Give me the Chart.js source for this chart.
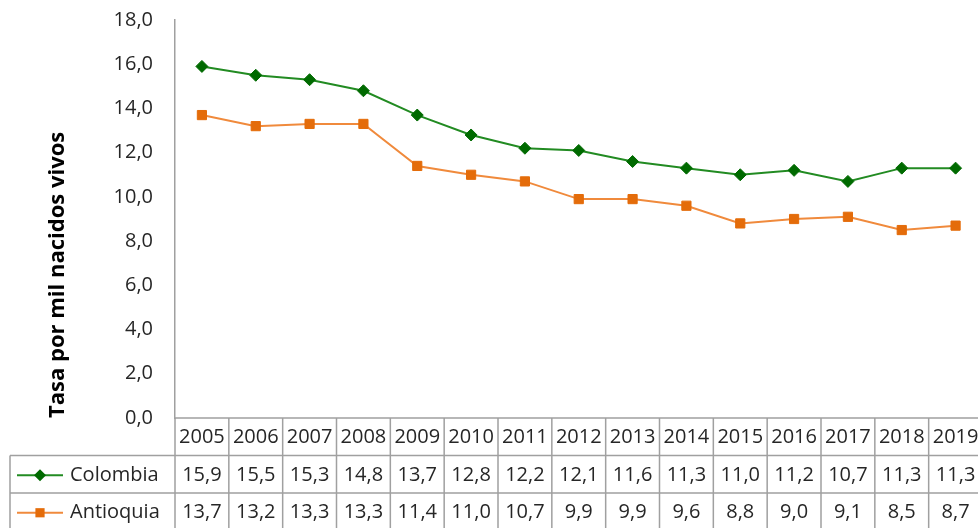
<!DOCTYPE html>
<html>
<head>
<meta charset="utf-8">
<script src="https://cdn.jsdelivr.net/npm/chart.js@4/dist/chart.umd.min.js"></script>
<style>
  body { margin: 0; background: #fff; overflow: hidden; }
  #wrap { width: 990px; height: 528px; }
</style>
</head>
<body>
<div id="wrap"><canvas id="chart" width="990" height="528"></canvas></div>
<script>
const years = ['2005', '2006', '2007', '2008', '2009', '2010', '2011', '2012', '2013', '2014', '2015', '2016', '2017', '2018', '2019'];
const colombia = [15.9, 15.5, 15.3, 14.8, 13.7, 12.8, 12.2, 12.1, 11.6, 11.3, 11.0, 11.2, 10.7, 11.3, 11.3];
const antioquia = [13.7, 13.2, 13.3, 13.3, 11.4, 11.0, 10.7, 9.9, 9.9, 9.6, 8.8, 9.0, 9.1, 8.5, 8.7];
const seriesNames = ['Colombia', 'Antioquia'];
const yMin = 0, yMax = 18, yStep = 2;
const yTitle = 'Tasa por mil nacidos vivos';

const green = '#006a00';
const greenLine = '#228b22';
const orange = '#e46c0a';
const orangeLine = '#f08a3c';
const gridGrey = '#a0a0a0';
const textCol = '#262626';
const fontFam = '"Open Sans", Lato, sans-serif';

function fmt(v) {
  return v.toFixed(1).replace('.', ',');
}

// data table below the plot, columns follow the x scale
const dataTable = {
  id: 'dataTable',
  afterDraw(chart) {
    const ctx = chart.ctx;
    const x = chart.scales.x;
    const area = chart.chartArea;
    const step = x.getPixelForValue(1) - x.getPixelForValue(0);
    const top = area.bottom;
    const rowH = 37.5;
    const legendLeft = 10;
    const left = x.getPixelForValue(0) - step / 2;
    const right = x.getPixelForValue(years.length - 1) + step / 2;
    const bottom = top + rowH * 3;

    ctx.save();
    ctx.strokeStyle = gridGrey;
    ctx.lineWidth = 1.5;
    ctx.beginPath();
    ctx.moveTo(left, top); ctx.lineTo(right, top);
    for (let r = 1; r <= 3; r++) {
      ctx.moveTo(legendLeft, top + rowH * r); ctx.lineTo(right, top + rowH * r);
    }
    for (let i = 0; i <= years.length; i++) {
      const cx = left + step * i;
      ctx.moveTo(cx, top); ctx.lineTo(cx, bottom);
    }
    ctx.moveTo(legendLeft, top + rowH); ctx.lineTo(legendLeft, bottom);
    ctx.stroke();

    ctx.fillStyle = textCol;
    ctx.font = '20px ' + fontFam;
    ctx.textAlign = 'center';
    ctx.textBaseline = 'middle';
    years.forEach((yr, i) => {
      ctx.fillText(yr, x.getPixelForValue(i), top + rowH / 2 + 1);
    });

    const rows = [colombia, antioquia];
    rows.forEach((vals, r) => {
      const cy = top + rowH * (r + 1.5) + 1;
      vals.forEach((v, i) => {
        ctx.fillText(fmt(v), x.getPixelForValue(i), cy);
      });
      // legend key
      const ds = chart.data.datasets[r];
      ctx.strokeStyle = ds.borderColor;
      ctx.lineWidth = 2;
      ctx.beginPath();
      ctx.moveTo(17, cy); ctx.lineTo(63, cy);
      ctx.stroke();
      ctx.fillStyle = ds.pointBackgroundColor;
      ctx.strokeStyle = ds.pointBorderColor;
      ctx.lineWidth = 1;
      Chart.helpers.drawPoint(ctx, { pointStyle: ds.pointStyle, radius: ds.pointRadius, rotation: 0 }, 40, cy);
      ctx.fillStyle = textCol;
      ctx.textAlign = 'left';
      ctx.fillText(seriesNames[r], 70, cy);
      ctx.textAlign = 'center';
    });
    ctx.restore();
  }
};

new Chart(document.getElementById('chart'), {
  type: 'line',
  data: {
    labels: years,
    datasets: [
      {
        label: seriesNames[0],
        data: colombia,
        borderColor: greenLine,
        borderWidth: 2,
        pointStyle: 'rectRot',
        pointRadius: 6,
        pointBackgroundColor: green,
        pointBorderColor: green,
        pointBorderWidth: 1
      },
      {
        label: seriesNames[1],
        data: antioquia,
        borderColor: orangeLine,
        borderWidth: 2,
        pointStyle: 'rect',
        pointRadius: 6.5,
        pointBackgroundColor: orange,
        pointBorderColor: orange,
        pointBorderWidth: 1
      }
    ]
  },
  options: {
    responsive: false,
    animation: false,
    layout: { padding: { left: 0, right: 5, top: 20, bottom: 110 } },
    plugins: {
      legend: { display: false },
      tooltip: { enabled: false }
    },
    scales: {
      x: {
        display: false,
        offset: true
      },
      y: {
        min: yMin,
        max: yMax,
        afterFit(scale) {
          scale.width = 175;
          scale.paddingTop = 0;
          scale.paddingBottom = 0;
        },
        grid: { display: false, drawTicks: false },
        border: { display: true, color: gridGrey, width: 1.5 },
        ticks: {
          stepSize: yStep,
          padding: 22,
          color: textCol,
          font: { family: fontFam, size: 20 },
          callback: v => fmt(v)
        },
        title: {
          display: true,
          text: yTitle,
          align: 'start',
          color: '#000',
          font: { family: fontFam, size: 22, weight: 'bold' },
          padding: { top: 45, bottom: 0 }
        }
      }
    }
  },
  plugins: [dataTable]
});
</script>
</body>
</html>
